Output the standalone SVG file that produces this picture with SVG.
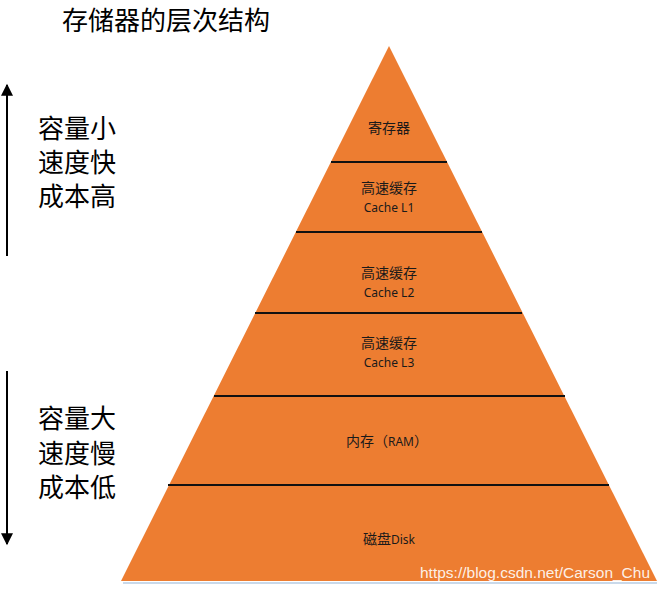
<svg xmlns="http://www.w3.org/2000/svg" width="665" height="592" viewBox="0 0 665 592">
<style>
.lbl{font-family:"Noto Sans","Noto Sans CJK SC",sans-serif;font-size:12px;fill:#1a1a1a;text-anchor:middle}
.cjk{font-family:"Noto Sans CJK SC",sans-serif;font-size:14px}
.side{font-family:"Noto Sans CJK SC",sans-serif;font-size:26px;fill:#000}
.sep{stroke:#111;stroke-width:2}
.arr{stroke:#000;stroke-width:2}
</style>
<defs>
<marker id="ah" viewBox="0 0 10 10" refX="9" refY="5" markerWidth="16" markerHeight="12" markerUnits="userSpaceOnUse" orient="auto"><path d="M0,0 L10,5 L0,10 Z" fill="#000"/></marker>
</defs>
<rect width="665" height="592" fill="#fff"/>
<text x="62" y="30" font-family="Noto Sans CJK SC,sans-serif" font-size="26" fill="#000">存储器的层次结构</text>
<g id="pyramid">
<line x1="123" y1="583" x2="657" y2="583" stroke="#c9d9ea" stroke-width="2"/>
<polygon points="389,46 657,581 121,581" fill="#ED7D31"/>
</g>
<g id="connectors">
<line class="sep" x1="331" y1="162" x2="447" y2="162"/>
<line class="sep" x1="296" y1="232" x2="482" y2="232"/>
<line class="sep" x1="255" y1="313" x2="522" y2="313"/>
<line class="sep" x1="214" y1="396" x2="565" y2="396"/>
<line class="sep" x1="168" y1="485" x2="609" y2="485"/>
<line class="arr" x1="7" y1="256" x2="7" y2="85" marker-end="url(#ah)"/>
<line class="arr" x1="7" y1="371" x2="7" y2="544" marker-end="url(#ah)"/>
</g>
<g id="reg"><text class="lbl cjk" x="389" y="133">寄存器</text></g>
<g id="l1"><text class="lbl cjk" x="389" y="193">高速缓存</text><text class="lbl" x="389" y="212">Cache L1</text></g>
<g id="l2"><text class="lbl cjk" x="389" y="278">高速缓存</text><text class="lbl" x="389" y="297">Cache L2</text></g>
<g id="l3"><text class="lbl cjk" x="389" y="348">高速缓存</text><text class="lbl" x="389" y="367">Cache L3</text></g>
<g id="ram"><text class="lbl" x="387" y="446"><tspan class="cjk">内存（</tspan>RAM<tspan class="cjk">）</tspan></text></g>
<g id="disk"><text class="lbl" x="389" y="544"><tspan class="cjk">磁盘</tspan>Disk</text></g>
<g id="top-text">
<text class="side" x="38" y="138">容量小</text>
<text class="side" x="38" y="172">速度快</text>
<text class="side" x="38" y="206">成本高</text>
</g>
<g id="bottom-text">
<text class="side" x="38" y="428">容量大</text>
<text class="side" x="38" y="463">速度慢</text>
<text class="side" x="38" y="497">成本低</text>
</g>
<text x="420" y="578" font-family="Liberation Sans,Arial,sans-serif" font-size="15.5" fill="#fff" fill-opacity="0.9">https://blog.csdn.net/Carson_Chu</text>
</svg>
